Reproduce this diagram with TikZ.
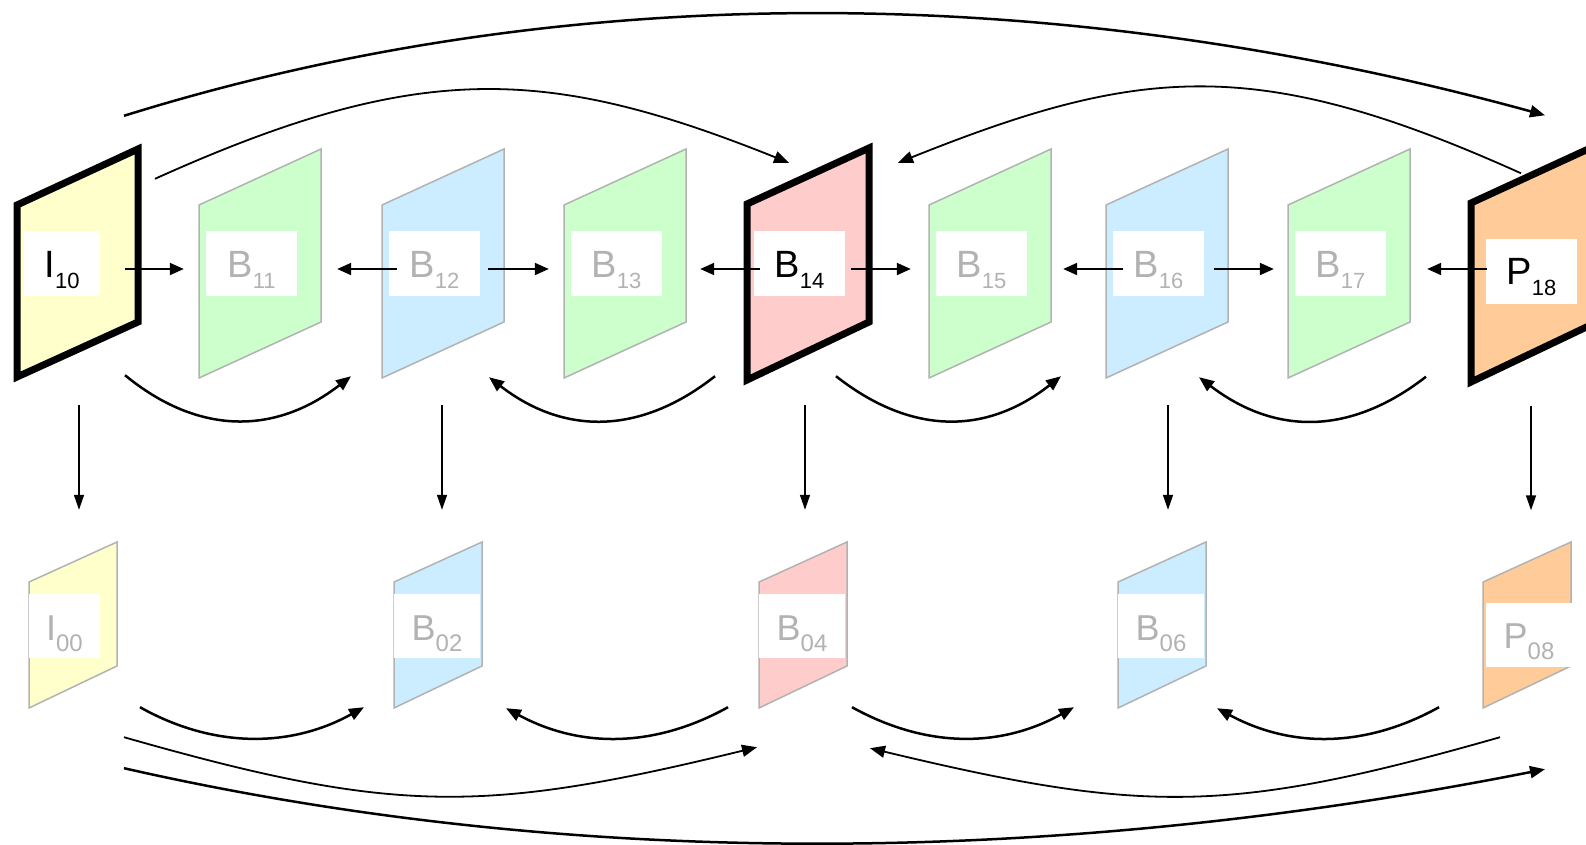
\documentclass[tikz,border=0pt]{standalone}
\usepackage{fontspec}
\setmainfont{Liberation Sans}
\usetikzlibrary{arrows.meta}

\definecolor{iyellow}{HTML}{FFFFCC}
\definecolor{bgreen}{HTML}{CCFFCC}
\definecolor{bblue}{HTML}{CCECFF}
\definecolor{bred}{HTML}{FFCCCC}
\definecolor{porange}{HTML}{FFCC99}
\definecolor{fgray}{HTML}{B2B2B2}

\newcommand{\lab}[3][22pt]{#2\raisebox{-11pt}{\fontsize{#1}{#1}\selectfont #3}}

\begin{document}
\begin{tikzpicture}[x=1pt, y=-1pt,
	refframe/.style={draw=black, line width=7pt},
	frame/.style={draw=fgray, line width=1.5pt},
	toplab/.style={fill=white, inner sep=0pt, minimum width=91pt, minimum height=65pt, text height=27pt, text depth=0pt, font=\fontsize{38pt}{40pt}\selectfont},
	botlab/.style={fill=white, inner sep=0pt, minimum width=86pt, minimum height=64pt, text height=28pt, text depth=0pt, text=fgray, font=\fontsize{36pt}{38pt}\selectfont},
	harrow/.style={-{Triangle[length=14pt,width=12pt]}, line width=2pt},
	varrow/.style={-{Triangle[length=15pt,width=10pt]}, line width=1.5pt},
	swing/.style={-{Triangle[length=15pt,width=12pt]}, line width=2.5pt},
	thinswing/.style={-{Triangle[length=15pt,width=12pt]}, line width=1.8pt}]
	\useasboundingbox (0,0) rectangle (1586,845);

	\filldraw[refframe, fill=iyellow] (17,205) -- (138,149) -- (138,322) -- (17,377) -- cycle;
	\filldraw[frame, fill=bgreen] (199,205) -- ++(122,-56) -- ++(0,173) -- ++(-122,56) -- cycle;
	\filldraw[frame, fill=bblue] (382,205) -- ++(122,-56) -- ++(0,173) -- ++(-122,56) -- cycle;
	\filldraw[frame, fill=bgreen] (564,205) -- ++(122,-56) -- ++(0,173) -- ++(-122,56) -- cycle;
	\filldraw[refframe, fill=bred] (747,204) -- (869,148) -- (869,322) -- (747,380) -- cycle;
	\filldraw[frame, fill=bgreen] (929,205) -- ++(122,-56) -- ++(0,173) -- ++(-122,56) -- cycle;
	\filldraw[frame, fill=bblue] (1106,205) -- ++(122,-56) -- ++(0,173) -- ++(-122,56) -- cycle;
	\filldraw[frame, fill=bgreen] (1288,205) -- ++(122,-56) -- ++(0,173) -- ++(-122,56) -- cycle;
	\filldraw[refframe, fill=porange] (1471,203) -- (1597,145) -- (1597,322) -- (1471,382) -- cycle;

	\filldraw[frame, fill=iyellow] (29,582) -- ++(88,-40) -- ++(0,124) -- ++(-88,42) -- cycle;
	\filldraw[frame, fill=bblue] (394,582) -- ++(88,-40) -- ++(0,124) -- ++(-88,42) -- cycle;
	\filldraw[frame, fill=bred] (759,582) -- ++(88,-40) -- ++(0,124) -- ++(-88,42) -- cycle;
	\filldraw[frame, fill=bblue] (1118,582) -- ++(88,-40) -- ++(0,124) -- ++(-88,42) -- cycle;
	\filldraw[frame, fill=porange] (1483,582) -- ++(88,-40) -- ++(0,124) -- ++(-88,42) -- cycle;

	\node[toplab, minimum width=76pt] (I10) at (62,263.5) {\lab{I}{10}};
	\node[toplab, text=fgray] (B11) at (251.5,263.5) {\lab{B}{11}};
	\node[toplab, text=fgray] (B12) at (434.5,263.5) {\lab{B}{12}};
	\node[toplab, text=fgray] (B13) at (616.5,263.5) {\lab{B}{13}};
	\node[toplab] (B14) at (799.5,263.5) {\lab{B}{14}};
	\node[toplab, text=fgray] (B15) at (981.5,263.5) {\lab{B}{15}};
	\node[toplab, text=fgray] (B16) at (1158.5,263.5) {\lab{B}{16}};
	\node[toplab, text=fgray] (B17) at (1340.5,263.5) {\lab{B}{17}};
	\node[toplab] (P18) at (1531.5,271) {\lab{P}{18}};

	\node[botlab, minimum width=71pt] (I00) at (64.5,626) {\lab[24pt]{I}{00}};
	\node[botlab] (B02) at (437,626) {\lab[24pt]{B}{02}};
	\node[botlab] (B04) at (802,626) {\lab[24pt]{B}{04}};
	\node[botlab] (B06) at (1161,626) {\lab[24pt]{B}{06}};
	\node[botlab] (P08) at (1529,634.5) {\lab[24pt]{P}{08}};

	\draw[harrow] ([shift={(25,5.5)}]I10.east) -- ([shift={(-22,5.5)}]B11.west);
	\draw[harrow] ([shift={(8,5.5)}]B12.west) -- ([shift={(40,5.5)}]B11.east);
	\draw[harrow] ([shift={(8,5.5)}]B12.east) -- ([shift={(-22,5.5)}]B13.west);
	\draw[harrow] ([shift={(6,5.5)}]B14.west) -- ([shift={(38,5.5)}]B13.east);
	\draw[harrow] ([shift={(6,5.5)}]B14.east) -- ([shift={(-25,5.5)}]B15.west);
	\draw[harrow] ([shift={(10,5.5)}]B16.west) -- ([shift={(36,5.5)}]B15.east);
	\draw[harrow] ([shift={(10,5.5)}]B16.east) -- ([shift={(-21,5.5)}]B17.west);
	\draw[harrow] ([shift={(1,-2)}]P18.west) -- ([shift={(41,5.5)}]B17.east);

	\draw[varrow] ([shift={(17,109)}]I10.south) -- ([shift={(14.5,-84)}]I00.north);
	\draw[varrow] ([shift={(7.5,109)}]B12.south) -- ([shift={(5,-84)}]B02.north);
	\draw[varrow] ([shift={(5.5,109)}]B14.south) -- ([shift={(3,-84)}]B04.north);
	\draw[varrow] ([shift={(9.5,109)}]B16.south) -- ([shift={(7,-84)}]B06.north);
	\draw[varrow] ([shift={(-0.5,102)}]P18.south) -- ([shift={(2,-92)}]P08.north);

	\draw[swing] ([shift={(63,79)}]I10.south) .. controls +(73,60) and +(-76,59) .. ([shift={(-83.5,80)}]B12.south);
	\draw[swing] ([shift={(-84.5,80)}]B14.south) .. controls +(-75,59) and +(75,58) .. ([shift={(54.5,81)}]B12.south);
	\draw[swing] ([shift={(36.5,80)}]B14.south) .. controls +(75,59) and +(-75,59) .. ([shift={(-97.5,80)}]B16.south);
	\draw[swing] ([shift={(-105.5,73)}]P18.south) .. controls +(-76,59) and +(76,58) .. ([shift={(40.5,81)}]B16.south);

	\draw[swing] ([shift={(75.5,49)}]I00.south) .. controls +(73,41) and +(-74,41) .. ([shift={(-73,49)}]B02.south);
	\draw[swing] ([shift={(-74,49)}]B04.south) .. controls +(-74,41) and +(74,40) .. ([shift={(69,50)}]B02.south);
	\draw[swing] ([shift={(50,49)}]B04.south) .. controls +(74,41) and +(-74,41) .. ([shift={(-87,49)}]B06.south);
	\draw[swing] ([shift={(-90,40.5)}]P08.south) .. controls +(-74,41) and +(74,40) .. ([shift={(56,50)}]B06.south);

	\draw[thinswing] ([shift={(59.5,79)}]I00.south) .. controls +(270,77) and +(-275,67) .. ([shift={(-45,89)}]B04.south);
	\draw[thinswing] ([shift={(-29,70.5)}]P08.south) .. controls +(-270,77) and +(275,66) .. ([shift={(68,90)}]B04.south);
	\draw[swing] ([shift={(59.5,110)}]I00.south) .. controls +(440,100) and +(-500,99) .. ([shift={(16,102.5)}]P08.south);

	\draw[swing] ([shift={(62,-115)}]I10.north) .. controls +(436,-136) and +(-495,-136) .. ([shift={(13.5,-123)}]P18.north);
	\draw[thinswing] ([shift={(93,-52)}]I10.north) .. controls +(264,-119) and +(-242,-97) .. ([shift={(-10.5,-68)}]B14.north);
	\draw[thinswing] ([shift={(-10.5,-65)}]P18.north) .. controls +(-264,-119) and +(242,-97) .. ([shift={(98.5,-68)}]B14.north);
\end{tikzpicture}
\end{document}
